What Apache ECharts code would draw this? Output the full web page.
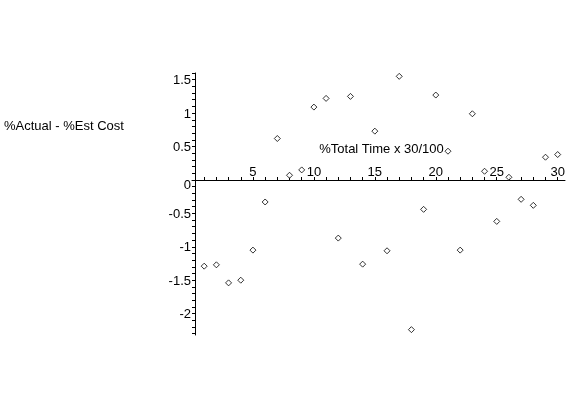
<!DOCTYPE html>
<html>
<head>
<meta charset="utf-8">
<script src="https://cdn.jsdelivr.net/npm/echarts@6/dist/echarts.min.js"></script>
<style>
  html, body { margin: 0; padding: 0; background: #fff; }
  #chart { width: 568px; height: 407px; }
</style>
</head>
<body>
<div id="chart"></div>
<script>
  // x: sample number, y: %Actual - %Est Cost
  const xValues = [1, 2, 3, 4, 5, 6, 7, 8, 9, 10, 11, 12, 13, 14, 15,
    16, 17, 18, 19, 20, 21, 22, 23, 24, 25, 26, 27, 28, 29, 30]
  const yValues = [-1.29, -1.27, -1.54, -1.50, -1.05, -0.33, 0.62, 0.07, 0.15, 1.09,
    1.22, -0.87, 1.25, -1.26, 0.73, -1.06, 1.55, -2.24, -0.44, 1.27,
    0.43, -1.05, 0.99, 0.13, -0.62, 0.04, -0.29, -0.38, 0.34, 0.38]
  const xTickLabels = [5, 10, 15, 20, 25, 30]
  const yTickLabels = [-2, -1.5, -1, -0.5, 0, 0.5, 1, 1.5]

  const font = '"Liberation Sans", Arial, sans-serif'

  // small ticks: every 1 on x, every 0.1 on y
  const xTicks = []
  for (let i = 1; i <= 30; i++) xTicks.push(i)
  const yTicks = []
  for (let i = -23; i <= 16; i++) yTicks.push(Math.round(i) / 10)

  const chart = echarts.init(document.getElementById('chart'))
  const option = {
    animation: false,
    backgroundColor: '#fff',
    title: {
      text: '%Actual - %Est Cost',
      left: 4,
      top: 120,
      padding: 0,
      textStyle: { fontFamily: font, fontSize: 13, fontWeight: 'normal', color: '#000' }
    },
    grid: { left: 192, right: 3, top: 73, bottom: 72, outerBoundsMode: 'none' },
    xAxis: {
      type: 'value',
      min: 0,
      max: 30.6,
      // x axis sits on y = 0 (moved up from the grid bottom)
      offset: -155,
      name: '%Total Time x 30/100',
      nameLocation: 'middle',
      nameGap: -31,
      nameTextStyle: {
        fontFamily: font, fontSize: 13, color: '#000',
        verticalAlign: 'middle', padding: [0, 0, 0, 6]
      },
      axisLine: { onZero: false, lineStyle: { color: '#000', width: 1 } },
      axisTick: { inside: true, length: 3, customValues: xTicks, lineStyle: { color: '#000' } },
      axisLabel: {
        inside: true, margin: 1, customValues: xTickLabels,
        fontFamily: font, fontSize: 13, color: '#000'
      },
      splitLine: { show: false }
    },
    yAxis: {
      type: 'value',
      min: -2.32,
      max: 1.6,
      offset: -3,
      axisLine: { show: true, onZero: false, lineStyle: { color: '#000', width: 1 } },
      axisTick: { show: true, length: 3, customValues: yTicks, lineStyle: { color: '#000' } },
      axisLabel: {
        margin: 4, customValues: yTickLabels,
        padding: [2, 0, 0, 0],
        fontFamily: font, fontSize: 13, color: '#000',
        formatter: v => (v === 0 ? '{zero|0}' : String(v)),
        rich: { zero: { fontFamily: font, fontSize: 13, color: '#000', padding: [8, 0, 0, 0] } }
      },
      splitLine: { show: false }
    },
    series: [{
      type: 'scatter',
      symbol: 'diamond',
      symbolSize: 6,
      itemStyle: { color: '#fff', borderColor: '#000', borderWidth: 1 },
      data: xValues.map((x, i) => [x, yValues[i]])
    }]
  }
  chart.setOption(option)
</script>
</body>
</html>
